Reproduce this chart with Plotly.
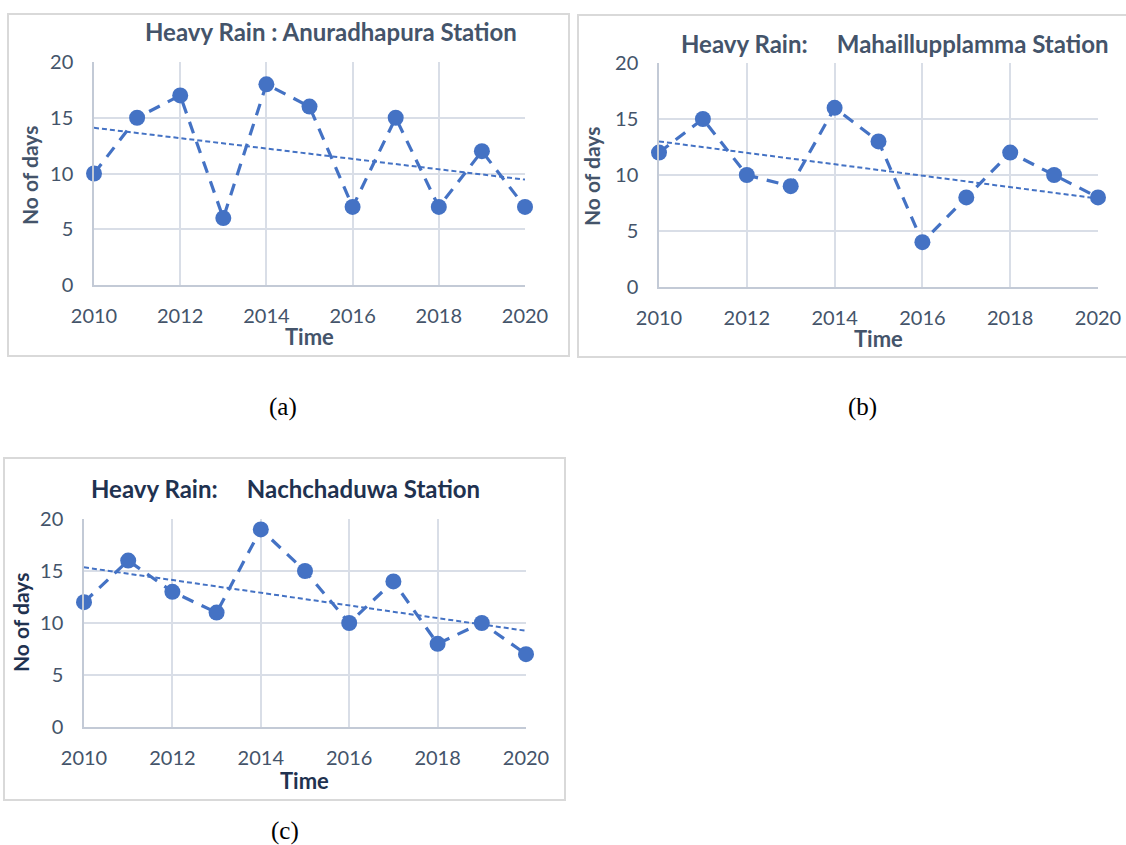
import plotly.graph_objects as go

W, H = 1126, 845
OFF = 0  # body margin removed via post_script

years = [2010, 2011, 2012, 2013, 2014, 2015, 2016, 2017, 2018, 2019, 2020]
anuradhapura = [10, 15, 17, 6, 18, 16, 7, 15, 7, 12, 7]
mahaillupplamma = [12, 15, 10, 9, 16, 13, 4, 8, 12, 10, 8]
nachchaduwa = [12, 16, 13, 11, 19, 15, 10, 14, 8, 10, 7]

# linear trendline values at 2010 and 2020
trend_years = [2010, 2020]
trend_anuradhapura = [14.1, 9.45]
trend_mahaillupplamma = [13.0, 7.9]
trend_nachchaduwa = [15.35, 9.25]

titles = ["Heavy Rain : Anuradhapura Station",
          "Heavy Rain:     Mahaillupplamma Station",
          "Heavy Rain:     Nachchaduwa Station"]
panel_labels = ["(a)", "(b)", "(c)"]
x_ticks = [2010, 2012, 2014, 2016, 2018, 2020]
y_ticks = [0, 5, 10, 15, 20]

BLUE = "#4472C4"
TXT = "#44546A"
TXT_DARK = "#1F3250"
GRID = "#D9DEE7"
AXIS = "#C3CAD6"
FONT = "Lato"


def px(x):
    return (x - OFF) / W


def py(y):
    return 1 - (y - OFF) / H


panels = [
    dict(data=anuradhapura, trend=trend_anuradhapura, plot=(94, 525, 62, 285), box=(8, 569, 14, 356),
         title=(331, 32), ylab=(29, 176), xlab=(309, 337), plab=(283, 407), tcol=TXT),
    dict(data=mahaillupplamma, trend=trend_mahaillupplamma, plot=(659, 1098, 63, 287), box=(578, 1140, 15, 357),
         title=(895, 43), ylab=(592, 177), xlab=(878, 338), plab=(862, 407), tcol=TXT),
    dict(data=nachchaduwa, trend=trend_nachchaduwa, plot=(84, 526, 519, 727), box=(4, 565, 458, 800),
         title=(285, 488), ylab=(20, 623), xlab=(304, 780), plab=(285, 831), tcol=TXT_DARK),
]

fig = go.Figure()
shapes = []
annotations = []
layout_axes = {}

for i, p in enumerate(panels):
    n = "" if i == 0 else str(i + 1)
    xa, ya = "x" + n, "y" + n
    x0, x1, yt, yb = p["plot"]

    fig.add_trace(go.Scatter(x=trend_years, y=p["trend"], mode="lines", xaxis=xa, yaxis=ya,
                             line=dict(color=BLUE, width=2, dash="5px,3px"),
                             showlegend=False, hoverinfo="skip"))
    fig.add_trace(go.Scatter(x=years, y=p["data"], mode="lines+markers", xaxis=xa, yaxis=ya,
                             line=dict(color=BLUE, width=3.2, dash="12px,9px"),
                             marker=dict(color=BLUE, size=16),
                             showlegend=False, cliponaxis=False))

    layout_axes["xaxis" + n] = dict(
        domain=[px(x0), px(x1)], anchor=ya, range=[2010, 2020],
        tickvals=x_ticks, ticktext=[str(t) for t in x_ticks],
        showgrid=True, gridcolor=GRID, gridwidth=1.5,
        showline=True, linecolor=AXIS, linewidth=1.5,
        zeroline=False, ticks="", ticklabelstandoff=12, automargin=False,
        tickfont=dict(family=FONT, size=20, color=TXT))
    layout_axes["yaxis" + n] = dict(
        domain=[py(yb), py(yt)], anchor=xa, range=[0, 20],
        tickvals=y_ticks, showgrid=True, gridcolor=GRID, gridwidth=1.5,
        showline=True, linecolor=AXIS, linewidth=1.5,
        zeroline=False, ticks="", ticklabelstandoff=15, automargin=False,
        tickfont=dict(family=FONT, size=20, color=TXT))

    bx0, bx1, by0, by1 = p["box"]
    shapes.append(dict(type="rect", xref="paper", yref="paper",
                       x0=px(bx0), x1=px(bx1), y0=py(by1), y1=py(by0),
                       line=dict(color="#D9D9D9", width=2), layer="below"))

    annotations.append(dict(text="<b>%s</b>" % titles[i], x=px(p["title"][0]), y=py(p["title"][1]),
                            xref="paper", yref="paper", showarrow=False,
                            xanchor="center", yanchor="middle",
                            font=dict(family=FONT, size=24, color=p["tcol"])))
    annotations.append(dict(text="<b>No of days</b>", x=px(p["ylab"][0]), y=py(p["ylab"][1]),
                            xref="paper", yref="paper", showarrow=False, textangle=-90,
                            xanchor="center", yanchor="middle",
                            font=dict(family=FONT, size=21, color=p["tcol"])))
    annotations.append(dict(text="<b>Time</b>", x=px(p["xlab"][0]), y=py(p["xlab"][1]),
                            xref="paper", yref="paper", showarrow=False,
                            xanchor="center", yanchor="middle",
                            font=dict(family=FONT, size=22, color=p["tcol"])))
    annotations.append(dict(text=panel_labels[i], x=px(p["plab"][0]), y=py(p["plab"][1]),
                            xref="paper", yref="paper", showarrow=False,
                            xanchor="center", yanchor="middle",
                            font=dict(family="Liberation Serif", size=25, color="#000000")))

fig.update_layout(width=W, height=H, margin=dict(l=0, r=0, t=0, b=0, autoexpand=False),
                  paper_bgcolor="white", plot_bgcolor="white",
                  shapes=shapes, annotations=annotations, **layout_axes)

fig.write_html("out.html", config={"displayModeBar": False},
               post_script="document.body.style.margin='0px';document.body.style.overflow='hidden';")
